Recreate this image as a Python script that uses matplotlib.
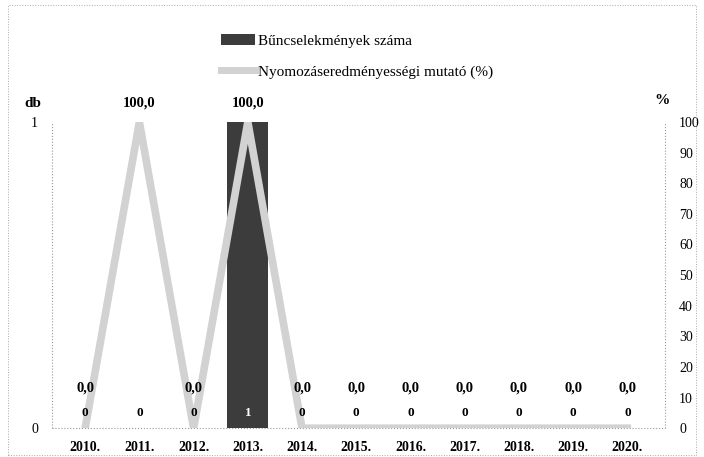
import matplotlib.pyplot as plt
from matplotlib.patches import Patch, Rectangle
from matplotlib.lines import Line2D

plt.rcParams['font.family'] = ['Liberation Serif', 'DejaVu Serif']

evek = ['2010.', '2011.', '2012.', '2013.', '2014.', '2015.', '2016.',
        '2017.', '2018.', '2019.', '2020.']
buncselekmenyek = [0, 0, 0, 1, 0, 0, 0, 0, 0, 0, 0]
mutato = [0.0, 100.0, 0.0, 100.0, 0.0, 0.0, 0.0, 0.0, 0.0, 0.0, 0.0]

fig = plt.figure(figsize=(7.04, 4.57), dpi=100)
ax = fig.add_axes([0.074, 0.063, 0.871, 0.67])
ax2 = ax.twinx()

x = range(len(evek))
bar_color = '#3c3c3c'
line_color = '#d2d2d2'
x0, x1 = -0.61, len(evek) - 0.3

ax.bar(x, buncselekmenyek, width=0.76, color=bar_color, zorder=2)
ax.set_ylim(0, 1)
ax.set_yticks([0, 1])
ax.set_xlim(x0, x1)
ax.set_xticks(list(x))
ax.set_xticklabels(evek, fontweight='bold', fontsize=10)

ax2.plot(x, mutato, color=line_color, lw=5.5, zorder=3)
ax2.set_ylim(0, 100)
ax2.set_yticks(range(0, 101, 10))

# oszlopok értékei az alapnál
for i, v in enumerate(buncselekmenyek):
    ax2.annotate(str(v), (i, 0), xytext=(0, 15), textcoords='offset pixels',
                 ha='center', va='center', fontsize=9.5, fontweight='bold',
                 color='white' if v > 0 else 'black', zorder=5)

# mutató értékei
for i, v in enumerate(mutato):
    off = 19 if v > 50 else 40
    ax2.annotate(f'{v:.1f}'.replace('.', ','), (i, v), xytext=(0, off),
                 textcoords='offset pixels', ha='center', va='center',
                 fontsize=10.5, fontweight='bold', zorder=5)

for a in (ax, ax2):
    for s in a.spines.values():
        s.set_visible(False)
    a.tick_params(length=0, labelsize=10)
    a.tick_params(axis='y', pad=10)
ax.tick_params(axis='x', pad=9)

ax.plot([x0, x0], [0, 1], ls=':', color='#999999', lw=0.8, clip_on=False)
ax.plot([x0, x1], [0, 0], ls=':', color='#999999', lw=0.8,
        clip_on=False, zorder=1)
ax.plot([x1, x1], [0, 1], ls=':', color='#999999', lw=0.8, clip_on=False)

fig.text(0.047, 0.774, 'db', fontsize=11, fontweight='bold', ha='center',
         va='center')
fig.text(0.94, 0.78, '%', fontsize=11, fontweight='bold', ha='center',
         va='center')

handles = [Patch(facecolor=bar_color, edgecolor='none'),
           Line2D([0], [0], color=line_color, lw=5)]
fig.legend(handles, ['Bűncselekmények száma',
                     'Nyomozáseredményességi mutató (%)'],
           loc='upper left', bbox_to_anchor=(0.295, 0.955), frameon=False,
           fontsize=11, handlelength=2.2, handletextpad=0.2, labelspacing=1.1)

fig.patches.append(Rectangle((0.012, 0.005), 0.976, 0.985, fill=False,
                             ls=':', lw=0.7, edgecolor='#aaaaaa',
                             transform=fig.transFigure))

fig.savefig('out.png', dpi=100)
